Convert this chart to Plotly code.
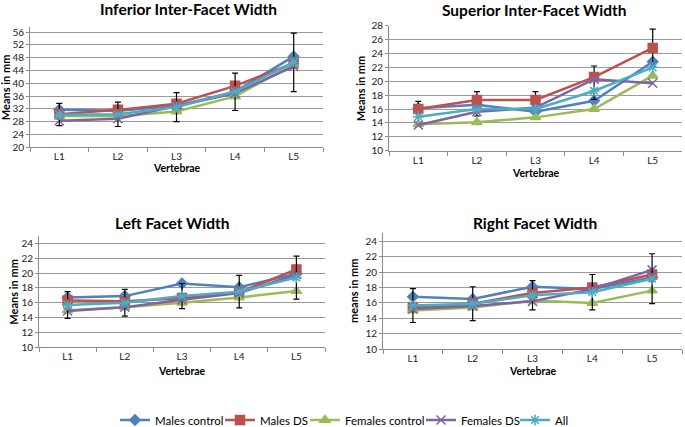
import plotly.graph_objects as go

categories = ["L1", "L2", "L3", "L4", "L5"]
series_names = ["Males control", "Males DS", "Females control", "Females DS", "All"]

# Inferior Inter-Facet Width
inf_males_control = [31.7, 31.4, 32.9, 37.4, 48.4]
inf_males_ds = [30.3, 31.7, 33.6, 39.2, 46.3]
inf_females_control = [29.8, 29.7, 31.2, 35.9, 46.0]
inf_females_ds = [28.3, 28.9, 32.9, 36.9, 45.3]
inf_all = [30.2, 30.3, 32.6, 37.4, 46.6]
inf_err_plus = [3.5, 3.8, 4.5, 5.8, 9.1]
inf_err_minus = [3.4, 3.8, 4.6, 5.9, 9.2]

# Superior Inter-Facet Width
sup_males_control = [16.1, 16.6, 15.6, 17.2, 22.8]
sup_males_ds = [16.0, 17.3, 17.3, 20.6, 24.8]
sup_females_control = [13.8, 14.1, 14.8, 16.0, 20.8]
sup_females_ds = [13.7, 15.6, 16.2, 20.3, 19.7]
sup_all = [14.9, 16.0, 16.0, 18.6, 22.0]
sup_err_plus = [1.1, 1.2, 1.2, 1.6, 2.7]
sup_err_minus = [1.1, 2.3, 1.2, 3.2, 2.7]

# Left Facet Width
left_males_control = [16.7, 16.9, 18.6, 18.1, 19.9]
left_males_ds = [16.3, 16.2, 16.6, 17.4, 20.5]
left_females_control = [15.0, 15.4, 16.0, 16.7, 17.6]
left_females_ds = [14.9, 15.4, 16.4, 17.3, 19.8]
left_all = [15.7, 16.0, 16.9, 17.5, 19.4]
left_err_plus = [1.8, 1.8, 1.7, 2.2, 2.9]
left_err_minus = [1.8, 1.8, 1.7, 2.2, 2.9]

# Right Facet Width
right_males_control = [16.8, 16.5, 18.1, 17.8, 19.3]
right_males_ds = [15.4, 15.9, 17.3, 18.0, 19.7]
right_females_control = [15.0, 15.4, 16.3, 16.0, 17.6]
right_females_ds = [15.2, 15.6, 16.2, 17.8, 20.3]
right_all = [15.65, 15.9, 17.0, 17.4, 19.15]
right_err_plus = [2.2, 2.2, 1.9, 2.3, 3.25]
right_err_minus = [2.2, 2.2, 1.9, 2.3, 3.25]

colors = ["#4F81BD", "#C0504D", "#9BBB59", "#8064A2", "#4BACC6"]
symbols = ["diamond", "square", "triangle-up", "x-thin-open", "asterisk-open"]
msizes = [8, 9, 9, 9, 9]

W, H = 685, 427

panels = [
    dict(title="Inferior Inter-Facet Width", ytitle="Means in mm",
         data=[inf_males_control, inf_males_ds, inf_females_control, inf_females_ds, inf_all],
         err_idx=4, ep=inf_err_plus, em=inf_err_minus,
         xdom=[30/W, 323/W], ydom=[1-147.3/H, 1-27/H], yrange=[20, 57.6], dtick=4,
         title_xy=(188, 9), ytitle_x=5, xt_y=168),
    dict(title="Superior Inter-Facet Width", ytitle="Means in mm",
         data=[sup_males_control, sup_males_ds, sup_females_control, sup_females_ds, sup_all],
         err_idx=1, ep=sup_err_plus, em=sup_err_minus,
         xdom=[389/W, 682/W], ydom=[1-150.7/H, 1-25.7/H], yrange=[10, 28], dtick=2,
         title_xy=(534, 10), ytitle_x=360, xt_y=173),
    dict(title="Left Facet Width", ytitle="Means in mm",
         data=[left_males_control, left_males_ds, left_females_control, left_females_ds, left_all],
         err_idx=4, ep=left_err_plus, em=left_err_minus,
         xdom=[39/W, 325/W], ydom=[1-347.3/H, 1-236/H], yrange=[10, 25], dtick=2,
         title_xy=(172, 223), ytitle_x=14, xt_y=371),
    dict(title="Right Facet Width", ytitle="means in mm",
         data=[right_males_control, right_males_ds, right_females_control, right_females_ds, right_all],
         err_idx=4, ep=right_err_plus, em=right_err_minus,
         xdom=[383/W, 682/W], ydom=[1-349/H, 1-233/H], yrange=[10, 25.1], dtick=2,
         title_xy=(535, 223), ytitle_x=353, xt_y=371),
]

# legend entry line start positions (px)
legend_line_x = [120, 225, 310, 426, 520]
legend_y = 420

FONT = "Lato"
fig = go.Figure()
annotations = []
layout_axes = {}
legend_keys = ["legend", "legend2", "legend3", "legend4", "legend5"]

for p_i, p in enumerate(panels):
    n = p_i + 1
    xa = "x" if n == 1 else f"x{n}"
    ya = "y" if n == 1 else f"y{n}"
    for s_i, vals in enumerate(p["data"]):
        err = None
        if s_i == p["err_idx"]:
            err = dict(type="data", symmetric=False, array=p["ep"], arrayminus=p["em"],
                       color="black", thickness=1.2, width=3)
        fig.add_trace(go.Scatter(
            x=categories, y=vals, name=series_names[s_i], xaxis=xa, yaxis=ya,
            mode="lines+markers", showlegend=(n == 1), legend=legend_keys[s_i],
            line=dict(color=colors[s_i], width=2.5),
            marker=dict(symbol=symbols[s_i], size=msizes[s_i], color=colors[s_i],
                        line=dict(color=colors[s_i], width=1.5)),
            error_y=err,
        ))
    xkey = "xaxis" if n == 1 else f"xaxis{n}"
    ykey = "yaxis" if n == 1 else f"yaxis{n}"
    layout_axes[xkey] = dict(
        domain=p["xdom"], anchor=ya, type="category", range=[-0.5, 4.5],
        showgrid=False, showline=True, linecolor="#8c8c8c", linewidth=1,
        ticks="outside", tickson="boundaries", ticklen=4, tickcolor="#8c8c8c",
        tickfont=dict(family=FONT, size=10, color="#222"), zeroline=False,
        automargin=False,
    )
    layout_axes[ykey] = dict(
        domain=p["ydom"], anchor=xa, range=p["yrange"], dtick=p["dtick"], tick0=0,
        showgrid=True, gridcolor="#9a9a9a", gridwidth=1,
        showline=True, linecolor="#8c8c8c", linewidth=1,
        ticks="outside", ticklen=3, tickcolor="#8c8c8c", zeroline=False,
        tickfont=dict(family=FONT, size=10, color="#222"), automargin=False,
    )
    tx, ty = p["title_xy"]
    annotations.append(dict(text=f"<b>{p['title']}</b>", x=tx/W, y=1-ty/H,
                            xref="paper", yref="paper", showarrow=False,
                            xanchor="center", yanchor="middle",
                            font=dict(family=FONT, size=15.5, color="black")))
    ymid = (p["ydom"][0] + p["ydom"][1]) / 2
    annotations.append(dict(text=f"<b>{p['ytitle']}</b>", x=p["ytitle_x"]/W, y=ymid,
                            xref="paper", yref="paper", showarrow=False, textangle=-90,
                            xanchor="center", yanchor="middle",
                            font=dict(family=FONT, size=11, color="black")))
    xmid = (p["xdom"][0] + p["xdom"][1]) / 2
    annotations.append(dict(text="<b>Vertebrae</b>", x=xmid, y=1-p["xt_y"]/H,
                            xref="paper", yref="paper", showarrow=False,
                            xanchor="center", yanchor="middle",
                            font=dict(family=FONT, size=10.5, color="black")))

legends = {}
for i, key in enumerate(legend_keys):
    legends[key] = dict(
        orientation="h", x=(legend_line_x[i] - 5) / W, xanchor="left",
        y=1 - legend_y / H, yanchor="middle", xref="container", yref="container",
        font=dict(family=FONT, size=11.5, color="black"),
        itemwidth=30, bgcolor="rgba(0,0,0,0)", borderwidth=0,
    )

fig.update_layout(
    width=W, height=H, margin=dict(l=0, r=0, t=0, b=0, autoexpand=False),
    paper_bgcolor="white", plot_bgcolor="white",
    annotations=annotations,
    **legends,
    **layout_axes,
)

fig.write_html("out.html", config={"displayModeBar": False},
               post_script="document.body.style.margin='0';document.body.style.padding='0';document.body.style.overflow='hidden';")
